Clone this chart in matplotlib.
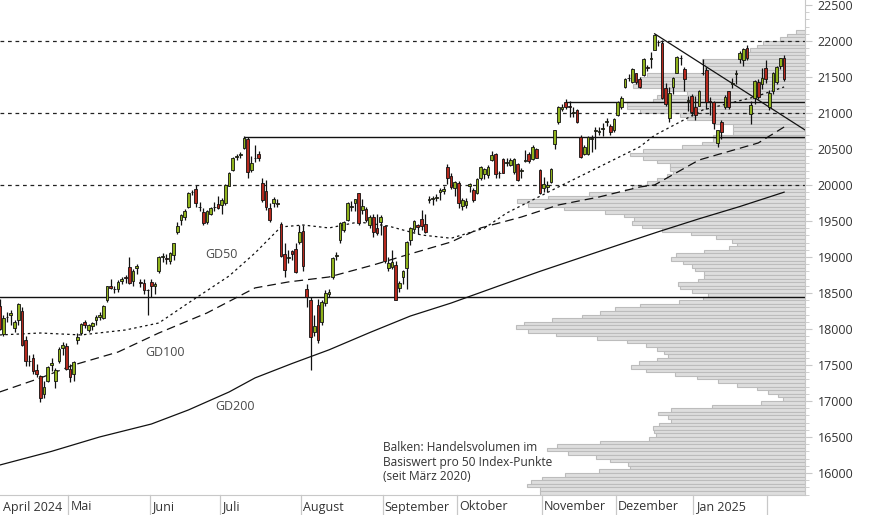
import numpy as np
import pandas as pd
import matplotlib
matplotlib.use("Agg")
import matplotlib.pyplot as plt
import matplotlib.transforms as mtrans

plt.rcParams['font.family'] = ['Open Sans', 'DejaVu Sans']

# ---------------- data (O, H, L, C) per month ----------------
apr = [(18320,18420,17980,18000),(17930,18200,17900,18150),(18170,18230,18100,18160),(18200,18260,18060,18220),
       (18010,18130,17960,18100),(18130,18360,18060,18350),(18250,18300,17760,17780),(17850,17900,17480,17560),
       (17560,17640,17480,17550),(17600,17650,17380,17420),(17430,17510,17330,17380),(17350,17360,16980,17040),
       (17100,17280,17040,17200),(17280,17490,17260,17470),(17500,17600,17420,17530),(17280,17460,17180,17430),
       (17550,17750,17530,17720),(17730,17820,17640,17780),(17770,17800,17430,17440)]
may = [(17450,17520,17260,17330),(17380,17560,17280,17540),(17850,17950,17790,17890),(17950,18080,17920,18070),
       (18090,18130,18010,18060),(17990,18070,17960,18050),(18040,18100,17990,18080),(18120,18200,18060,18160),
       (18170,18230,18120,18190),(18150,18330,18140,18320),(18400,18600,18380,18590),(18600,18700,18560,18570),
       (18550,18600,18500,18550),(18560,18680,18520,18650),(18660,18720,18630,18700),(18720,18750,18640,18710),
       (18860,19000,18620,18640),(18660,18830,18600,18810),(18850,18900,18760,18870),(18650,18700,18580,18640),
       (18640,18690,18480,18540),(18540,18560,18200,18540)]
jun = [(18650,18700,18450,18590),(18590,18650,18480,18630),(18800,19010,18780,19000),(19000,19060,18930,19000),
       (18990,19040,18900,18970),(18950,19070,18900,19050),(19030,19200,18960,19190),(19350,19480,19320,19430),
       (19520,19600,19450,19580),(19560,19660,19520,19640),(19700,19900,19680,19890),(19900,19930,19860,19900),
       (19950,20000,19700,19750),(19700,19760,19640,19690),(19620,19680,19450,19470),(19480,19650,19460,19640),
       (19600,19700,19580,19680),(19700,19760,19640,19690),(19730,19850,19660,19680)]
jul = [(19720,19820,19600,19790),(19750,20010,19720,20000),(19990,20180,19980,20170),(20210,20390,20200,20380),
       (20390,20430,20350,20400),(20420,20460,20380,20430),(20520,20680,20500,20650),(20640,20660,20100,20180),
       (20210,20400,20180,20300),(20370,20550,20320,20380),(20430,20470,20330,20380),(20030,20100,19760,19790),
       (19920,20070,19650,19700),(19680,19750,19480,19520),(19750,19830,19700,19800),(19740,19800,19690,19750),
       (19460,19480,19000,19010),(19040,19200,18720,18820),(18990,19090,18920,19000),(19080,19100,18960,19040),
       (19110,19200,18780,18790),(19210,19440,19180,19350)]
aug = [(19360,19440,18800,18880),(18560,18620,18300,18450),(18400,18450,17430,17890),(17960,18200,17900,18040),
       (18330,18420,17800,17850),(18100,18400,18050,18370),(18360,18540,18320,18500),(18480,18560,18450,18510),
       (18720,19000,18700,18990),(19010,19070,18960,19030),(19240,19480,19200,19470),(19380,19500,19350,19490),
       (19510,19760,19500,19750),(19690,19780,19640,19710),(19750,19810,19640,19800),(19890,19890,19450,19470),
       (19650,19800,19600,19710),(19670,19690,19480,19510),(19440,19580,19400,19560),(19560,19600,19280,19350),
       (19400,19600,19300,19330),(19490,19580,19300,19560)]
sep = [(19430,19440,18920,18940),(18850,19000,18800,18920),(18860,19100,18830,18930),(18890,18950,18400,18400),
       (18570,18670,18520,18640),(18720,18820,18620,18800),(18850,19220,18550,19210),(19240,19420,19170,19400),
       (19390,19510,19350,19500),(19440,19460,19320,19420),(19530,19650,19380,19430),(19460,19590,19330,19350),
       (19790,19850,19750,19810),(19810,19850,19720,19820),(19820,19880,19780,19830),(19900,19960,19790,19930),
       (19920,19990,19880,19950),(20250,20290,20020,20100),(20120,20160,19950,19970),(19960,20050,19850,20040)]
okt = [(20030,20050,19680,19750),(19710,19820,19650,19790),(19720,19820,19680,19780),(19980,20030,19900,20010),
       (19930,19960,19760,19790),(19890,20090,19870,20080),(20100,20260,20070,20250),(20150,20230,20080,20220),
       (20140,20280,20100,20250),(20350,20470,20330,20420),(20430,20440,20090,20150),(20160,20200,20100,20170),
       (20360,20380,20160,20170),(20300,20380,20270,20320),(20280,20370,20260,20350),(20180,20370,20150,20360),
       (20290,20300,20050,20070),(20190,20230,20100,20210),(20330,20480,20320,20350),(20430,20460,20310,20330),
       (20360,20560,20350,20530),(20500,20520,20370,20380),(20210,20220,19880,19890)]
nov = [(19960,20110,19900,20010),(19970,20060,19900,20000),(20040,20230,20030,20220),(20570,20770,20500,20760),
       (20880,21090,20850,21080),(21060,21120,21030,21080),(21150,21200,21050,21080),(21090,21160,20950,21080),
       (21000,21080,20950,21010),(21040,21060,20860,20880),(20670,20690,20370,20390),(20430,20560,20420,20530),
       (20430,20680,20420,20670),(20640,20700,20460,20650),(20750,20800,20500,20750),(20740,20800,20690,20750),
       (20780,20860,20680,20780),(20880,20930,20820,20890),(20820,20840,20690,20740),(20760,20930,20740,20920)]
dez = [(20970,21160,20960,21150),(21080,21230,21060,21210),(21360,21480,21350,21470),(21480,21540,21440,21490),
       (21430,21630,21420,21610),(21550,21560,21400,21430),(21470,21500,21340,21360),(21530,21760,21520,21750),
       (21640,21670,21580,21630),(21750,21850,21620,21760),(21880,22100,21870,22080),(21980,22010,21930,21990),
       (21970,22010,21190,21210),(21350,21420,21100,21120),(20930,21360,20870,21280),(21360,21500,21260,21490),
       (21560,21790,21550,21780),(21760,21810,21670,21760),(21610,21640,21310,21470),(21170,21230,21030,21180),
       (21240,21260,20960,21010)]
jan = [(21080,21230,20900,20970),(21100,21320,21090,21300),(21550,21750,21530,21550),(21600,21640,21060,21150),
       (21160,21220,20970,21150),(21150,21160,20780,20860),(20580,20770,20530,20760),(20880,20900,20640,20740),
       (21080,21250,21050,21220),(21300,21310,21060,21080),(21400,21480,21340,21420),(21540,21600,21400,21550),
       (21750,21860,21700,21830),(21740,21900,21650,21890),(21900,21950,21740,21760),(20990,21160,20840,21110),
       (21210,21460,21130,21440),(21430,21470,21200,21220),(21400,21620,21330,21490),(21620,21730,21420,21470)]
feb = [(21080,21320,21040,21280),(21300,21570,21270,21560),(21430,21650,21400,21640),(21650,21770,21610,21760),
       (21760,21810,21450,21470)]

holidays = ['2024-05-27', '2024-06-19', '2024-07-04', '2024-09-02', '2024-11-28',
            '2024-12-25', '2025-01-01', '2025-01-09', '2025-01-20']

month_labels = ['April 2024', 'Mai', 'Juni', 'Juli', 'August', 'September', 'Oktober',
                'November', 'Dezember', 'Jan 2025', '']

y_ticks = [16000, 16500, 17000, 17500, 18000, 18500, 19000, 19500, 20000,
           20500, 21000, 21500, 22000, 22500]

# moving averages, read at trading-day positions
gd50_x = [3,14,25,37,46,54,65,72,79,85,92,100,108,117,125,134,140,154,165,176,180,193,207,215]
gd50_y = [17917,17944,17917,17986,18083,18361,18736,19055,19417,19444,19403,19486,19430,19305,
          19260,19400,19610,19972,20250,20530,20690,21041,21222,21361]
gd100_x = [3,14,23,35,46,59,72,81,92,104,113,125,133,144,154,165,176,180,192,208,215]
gd100_y = [17125,17319,17500,17680,17944,18222,18570,18653,18722,18889,19028,19208,19403,19555,
           19722,19833,19972,20000,20347,20583,20805]
gd200_x = [3,17,30,44,54,65,72,82,92,103,114,125,138,149,160,171,181,192,203,215]
gd200_y = [16110,16300,16500,16680,16875,17125,17320,17520,17710,17950,18180,18360,18600,18800,
           18990,19180,19350,19530,19700,19900]

# volume profile: bins of 50 points, from 22125 downwards
vol_top = 22125
vol = [9,18,25,42,48,55,58,57,103,100,100,100,158,165,168,172,138,118,148,152,178,178,165,125,118,92,72,72,72,92,
       92,103,123,162,175,162,148,135,135,132,138,148,158,173,
       180,216,257,288,277,241,200,181,171,173,163,143,114,89,73,68,76,101,129,134,122,113,110,101,101,107,
       127,125,113,97,102,126,165,190,205,223,253,281,289,277,249,
       208,178,159,148,141,137,148,166,174,159,130,108,87,68,48,37,27,22,44,93,134,147,137,134,146,152,151,
       149,156,205,248,258,237,209,195,177,175,206,240,263,274,278,265,265]

dashed_levels = [22000, 21000, 20000]
support_level = 18450
res1 = ('2024-07-10', 20667)
res2 = ('2024-11-11', 21157)
trend = ('2024-12-16', 22100, 20764)

# ---------------- calendar ----------------
days = pd.bdate_range('2024-04-01', '2025-02-07')
days = days[~days.isin(pd.to_datetime(holidays))]
pos = {d: i for i, d in enumerate(days)}
ohlc = np.array(apr + may + jun + jul + aug + sep + okt + nov + dez + jan + feb, dtype=float)
dates = days[days >= '2024-04-04']
x = np.array([pos[d] for d in dates], dtype=float)
o, h, l, c = ohlc.T

W, H = 874, 515
fig = plt.figure(figsize=(W/100, H/100), dpi=100)
px_day = 3.7
x0 = 22 - 70/px_day
x1 = x0 + 805/px_day
ax = fig.add_axes([0, 20/H, 805/W, 495/H])
ax.set_xlim(x0, x1)
ax.set_ylim(15694, 22569)

# volume profile
centers = vol_top - 50*np.arange(len(vol))
vlen = np.array(vol)/px_day
ax.barh(centers, vlen, left=x1 - vlen, height=50, color='#dedede', edgecolor='#bcbcbc',
        linewidth=0.8, zorder=1)

# horizontal lines
for lv in dashed_levels:
    ax.axhline(lv, color='#222', lw=0.9, ls=(0, (3, 3)), zorder=2)
ax.axhline(support_level, color='#111', lw=1.0, zorder=2)
ax.hlines(res1[1], pos[pd.Timestamp(res1[0])], x1, color='#111', lw=1.0, zorder=2)
ax.hlines(res2[1], pos[pd.Timestamp(res2[0])], x1, color='#111', lw=1.0, zorder=2)
ax.plot([pos[pd.Timestamp(trend[0])], x1], [trend[1], trend[2]], color='#111', lw=0.9, zorder=2)

# moving averages
ax.plot(gd50_x, gd50_y, color='#111', lw=0.9, ls=(0, (2, 2.5)), zorder=3)
ax.plot(gd100_x, gd100_y, color='#111', lw=0.9, ls=(0, (7, 4)), zorder=3)
ax.plot(gd200_x, gd200_y, color='#111', lw=0.9, zorder=3)
tc = '#4a4a4a'
ax.text(3.08 + 205/px_day, 18990, 'GD50', fontsize=9, color=tc, zorder=6)
ax.text(3.08 + 145/px_day, 17630, 'GD100', fontsize=9, color=tc, zorder=6)
ax.text(3.08 + 215/px_day, 16880, 'GD200', fontsize=9, color=tc, zorder=6)

# candles
up = c >= o
ax.vlines(x, l, h, color='#111', lw=0.9, zorder=4)
ax.bar(x, np.maximum(np.abs(c - o), 8), bottom=np.minimum(o, c), width=0.72,
       color=np.where(up, '#8fb21c', '#b5291e'), edgecolor='#111', linewidth=0.6, zorder=5)

ax.text(3.08 + 383/px_day, 15900,
        'Balken: Handelsvolumen im\nBasiswert pro 50 Index-Punkte\n(seit März 2020)',
        fontsize=8.6, color='#333', linespacing=1.15, zorder=6)

# axes styling
for s in ['top', 'left']:
    ax.spines[s].set_visible(False)
ax.spines['right'].set_color('#c8c8c8')
ax.spines['bottom'].set_color('#c8c8c8')
ax.yaxis.tick_right()
ax.set_yticks(y_ticks)
ax.set_yticklabels([str(v) for v in y_ticks])
ax.set_yticks(np.arange(15700, 22600, 100), minor=True)
ax.tick_params(axis='y', which='both', length=5, color='#c8c8c8', labelsize=9,
               labelcolor='#333', pad=4)
ax.tick_params(axis='y', which='minor', length=3)
ax.set_xticks([])

month_starts = [days[days.month == m][0] for m in [4]] + \
    [days[(days.year == y) & (days.month == m)][0] for y, m in
     [(2024, 5), (2024, 6), (2024, 7), (2024, 8), (2024, 9), (2024, 10), (2024, 11), (2024, 12),
      (2025, 1), (2025, 2)]]
tr = mtrans.blended_transform_factory(ax.transData, ax.transAxes)
for i, (d, lab) in enumerate(zip(month_starts, month_labels)):
    xm = max(pos[d] - 0.5, x0 + 0.1)
    if i > 0:
        ax.plot([xm, xm], [0, -20/495], transform=tr, color='#c8c8c8', lw=0.9, clip_on=False)
    ax.text(xm + 0.6, -12/495, lab, transform=tr, fontsize=9, color='#333',
            va='center', ha='left', clip_on=False)

fig.savefig('out.png', dpi=100)
